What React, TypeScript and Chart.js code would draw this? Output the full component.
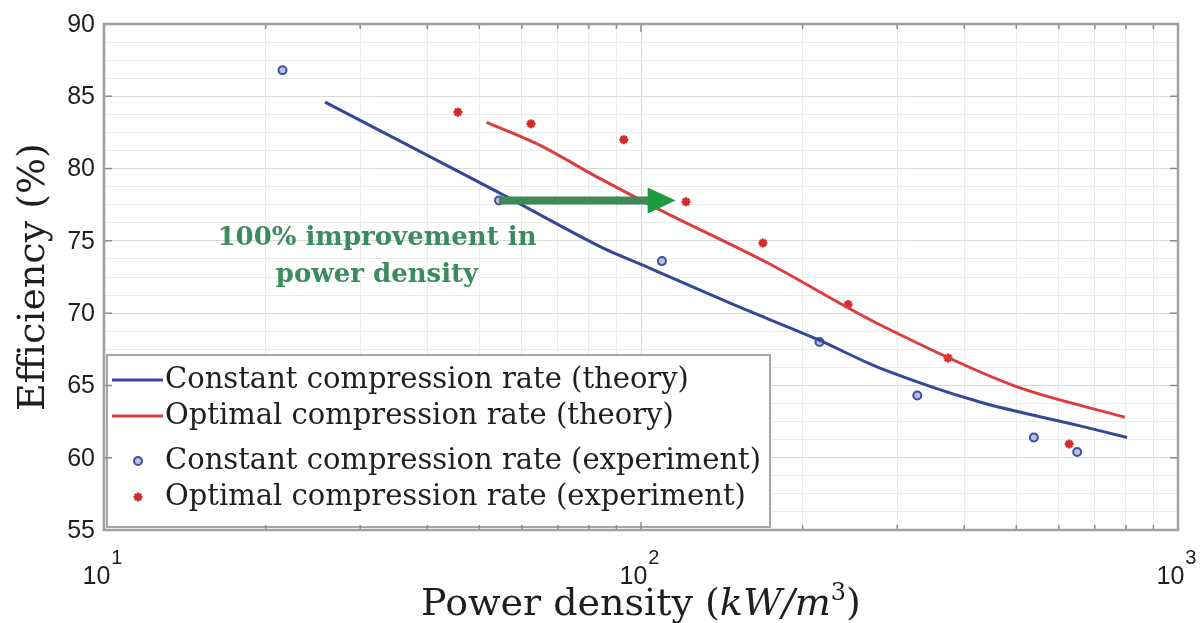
import React, { useEffect, useRef } from "react";
import { Chart, registerables } from "chart.js";
Chart.register(...registerables);

// ---------- data ----------
const xTickValues = [10, 20, 30, 40, 50, 60, 70, 80, 90, 100, 200, 300, 400, 500, 600, 700, 800, 900, 1000];
const xMajorTicks = [10, 100, 1000];
const xMajorExponents = ["1", "2", "3"];
const yTickValues = [55, 56.25, 57.5, 58.75, 60, 61.25, 62.5, 63.75, 65, 66.25, 67.5, 68.75, 70, 71.25, 72.5, 73.75, 75, 76.25, 77.5, 78.75, 80, 81.25, 82.5, 83.75, 85, 86.25, 87.5, 88.75, 90];
const yLabelValues = [55, 60, 65, 70, 75, 80, 85, 90];

const constTheoryX = [25.8, 35.6, 54.6, 83.9, 104, 148.4, 212.7, 278.6, 427.6, 656.9, 803.5];
const constTheoryY = [84.6, 81.9, 78.3, 74.6, 73.1, 70.6, 68.2, 66.2, 63.85, 62.2, 61.4];
const optTheoryX = [51.6, 64.9, 83.9, 111.7, 171.6, 275, 493, 796];
const optTheoryY = [83.2, 81.6, 79.3, 76.9, 73.5, 69.3, 65.0, 62.8];
const constExpX = [21.5, 54.4, 109.4, 215, 327, 539, 649];
const constExpY = [86.8, 77.8, 73.6, 68.0, 64.3, 61.4, 60.4];
const optExpX = [45.6, 62.4, 92.9, 121.3, 168.7, 243, 373, 627];
const optExpY = [83.9, 83.1, 82.0, 77.7, 74.85, 70.6, 66.9, 60.95];

const arrowStartX = 54.4;
const arrowEndX = 116;
const arrowY = 77.8;

const legendLabels = [
  "Constant compression rate (theory)",
  "Optimal compression rate (theory)",
  "Constant compression rate (experiment)",
  "Optimal compression rate (experiment)",
];
const annotationLines = ["100% improvement in", "power density"];
const yTitle = "Efficiency (%)";

const BLUE = "#34489a";
const RED = "#dc3d3d";
const BLUE_PT = "#3f4f9e";
const RED_PT = "#d22b2b";
const TEXT = "#1f1f1f";

function zip(xs: number[], ys: number[]) {
  return xs.map((x, i) => ({ x, y: ys[i] }));
}

function drawStar(ctx: CanvasRenderingContext2D, x: number, y: number, r: number) {
  ctx.beginPath();
  for (let i = 0; i < 4; i++) {
    const a = (i * Math.PI) / 4;
    ctx.moveTo(x - Math.cos(a) * r, y - Math.sin(a) * r);
    ctx.lineTo(x + Math.cos(a) * r, y + Math.sin(a) * r);
  }
  ctx.stroke();
}

const overlayPlugin = {
  id: "overlay",
  afterDatasetsDraw(chart: any) {
    const ctx: CanvasRenderingContext2D = chart.ctx;
    const xs = chart.scales.x;
    const ys = chart.scales.y;
    ctx.save();
    // arrow
    const x0 = xs.getPixelForValue(arrowStartX);
    const x1 = xs.getPixelForValue(arrowEndX);
    const y0 = ys.getPixelForValue(arrowY);
    ctx.strokeStyle = "#3d8a58";
    ctx.lineWidth = 8;
    ctx.beginPath();
    ctx.moveTo(x0, y0);
    ctx.lineTo(x1 - 24, y0);
    ctx.stroke();
    ctx.fillStyle = "#1d9a40";
    ctx.beginPath();
    ctx.moveTo(x1, y0);
    ctx.lineTo(x1 - 28, y0 - 13);
    ctx.lineTo(x1 - 28, y0 + 13);
    ctx.closePath();
    ctx.fill();

    // annotation
    ctx.fillStyle = "#3b8b5e";
    ctx.font = "bold 26px 'DejaVu Serif'";
    ctx.textAlign = "center";
    ctx.textBaseline = "middle";
    ctx.fillText(annotationLines[0], 377, 238);
    ctx.fillText(annotationLines[1], 377, 275);

    // legend
    const lx = 107, ly = 355, lw = 663, lh = 172;
    ctx.fillStyle = "#ffffff";
    ctx.fillRect(lx, ly, lw, lh);
    ctx.strokeStyle = "#a6a6a6";
    ctx.lineWidth = 2;
    ctx.strokeRect(lx, ly, lw, lh);
    const rows = [380, 416, 461, 497];
    ctx.font = "29px 'DejaVu Serif'";
    ctx.textAlign = "left";
    ctx.textBaseline = "middle";
    legendLabels.forEach((t, i) => {
      const ry = rows[i];
      if (i < 2) {
        ctx.strokeStyle = i === 0 ? BLUE : RED;
        ctx.lineWidth = 3;
        ctx.beginPath();
        ctx.moveTo(112, ry);
        ctx.lineTo(163, ry);
        ctx.stroke();
      } else if (i === 2) {
        ctx.strokeStyle = BLUE_PT;
        ctx.fillStyle = "rgba(63,79,158,0.35)";
        ctx.lineWidth = 2;
        ctx.beginPath();
        ctx.arc(138, ry, 4, 0, Math.PI * 2);
        ctx.fill();
        ctx.stroke();
      } else {
        ctx.strokeStyle = RED_PT;
        ctx.lineWidth = 2.5;
        drawStar(ctx, 138, ry, 4.5);
      }
      ctx.fillStyle = TEXT;
      ctx.fillText(t, 165, ry);
    });
    ctx.restore();
  },
  afterDraw(chart: any) {
    const ctx: CanvasRenderingContext2D = chart.ctx;
    const xs = chart.scales.x;
    const ys = chart.scales.y;
    const a = chart.chartArea;
    ctx.save();
    // inward ticks
    ctx.strokeStyle = "#8a8a8a";
    ctx.lineWidth = 1.5;
    xTickValues.forEach((v) => {
      const px = xs.getPixelForValue(v);
      const len = xMajorTicks.includes(v) ? 8 : 5;
      ctx.beginPath();
      ctx.moveTo(px, a.bottom);
      ctx.lineTo(px, a.bottom - len);
      ctx.moveTo(px, a.top);
      ctx.lineTo(px, a.top + len);
      ctx.stroke();
    });
    yLabelValues.forEach((v) => {
      const py = ys.getPixelForValue(v);
      ctx.beginPath();
      ctx.moveTo(a.left, py);
      ctx.lineTo(a.left + 8, py);
      ctx.moveTo(a.right, py);
      ctx.lineTo(a.right - 8, py);
      ctx.stroke();
    });
    // border
    ctx.strokeStyle = "#a0a0a0";
    ctx.lineWidth = 2.5;
    ctx.strokeRect(a.left, a.top, a.right - a.left, a.bottom - a.top);

    // y tick labels
    ctx.fillStyle = TEXT;
    ctx.font = "25px 'Liberation Sans', Arial";
    ctx.textAlign = "right";
    ctx.textBaseline = "middle";
    yLabelValues.forEach((v) => {
      ctx.fillText(String(v), 95, ys.getPixelForValue(v) + 1);
    });

    // x tick labels 10^n
    xMajorTicks.forEach((v, i) => {
      const px = xs.getPixelForValue(v);
      ctx.font = "25px 'Liberation Sans', Arial";
      const wBase = ctx.measureText("10").width;
      ctx.font = "20px 'Liberation Sans', Arial";
      const wSup = ctx.measureText(xMajorExponents[i]).width;
      const start = px - (wBase + wSup) / 2 - 2;
      ctx.textAlign = "left";
      ctx.textBaseline = "alphabetic";
      ctx.font = "25px 'Liberation Sans', Arial";
      ctx.fillText("10", start, 584);
      ctx.font = "20px 'Liberation Sans', Arial";
      ctx.fillText(xMajorExponents[i], start + wBase + 1, 564);
    });

    // x title
    const parts = [
      { t: "Power density (", f: "38px 'DejaVu Serif'", dy: 0 },
      { t: "kW/m", f: "italic 38px 'DejaVu Serif'", dy: 0 },
      { t: "3", f: "24px 'DejaVu Serif'", dy: -15 },
      { t: ")", f: "38px 'DejaVu Serif'", dy: 0 },
    ];
    let total = 0;
    const widths = parts.map((p) => {
      ctx.font = p.f;
      const w = ctx.measureText(p.t).width;
      total += w;
      return w;
    });
    let cx = 641 - total / 2;
    ctx.textAlign = "left";
    ctx.textBaseline = "alphabetic";
    parts.forEach((p, i) => {
      ctx.font = p.f;
      ctx.fillText(p.t, cx, 615 + p.dy);
      cx += widths[i];
    });

    // y title
    ctx.translate(44, (a.top + a.bottom) / 2);
    ctx.rotate(-Math.PI / 2);
    ctx.font = "38px 'DejaVu Serif'";
    ctx.textAlign = "center";
    ctx.textBaseline = "alphabetic";
    ctx.fillText(yTitle, 0, 0);
    ctx.restore();
  },
};

export default function App() {
  const ref = useRef<HTMLCanvasElement | null>(null);
  useEffect(() => {
    if (!ref.current) return;
    const chart = new Chart(ref.current, {
      type: "scatter",
      data: {
        datasets: [
          {
            label: legendLabels[0],
            data: zip(constTheoryX, constTheoryY),
            showLine: true,
            borderColor: BLUE,
            borderWidth: 3,
            pointRadius: 0,
            tension: 0.3,
          },
          {
            label: legendLabels[1],
            data: zip(optTheoryX, optTheoryY),
            showLine: true,
            borderColor: RED,
            borderWidth: 3,
            pointRadius: 0,
            tension: 0.3,
          },
          {
            label: legendLabels[2],
            data: zip(constExpX, constExpY),
            showLine: false,
            pointStyle: "circle",
            pointRadius: 4,
            borderWidth: 2,
            borderColor: BLUE_PT,
            backgroundColor: "rgba(63,79,158,0.35)",
          },
          {
            label: legendLabels[3],
            data: zip(optExpX, optExpY),
            showLine: false,
            pointStyle: "star",
            pointRadius: 4.5,
            borderWidth: 2.5,
            borderColor: RED_PT,
            backgroundColor: RED_PT,
          },
        ],
      } as any,
      options: {
        animation: false,
        responsive: false,
        layout: { padding: { left: 104, top: 24, right: 26, bottom: 93 } },
        plugins: { legend: { display: false }, tooltip: { enabled: false } },
        scales: {
          x: {
            type: "logarithmic",
            min: 10,
            max: 1000,
            afterBuildTicks: (s: any) => {
              s.ticks = xTickValues.map((v) => ({ value: v, major: xMajorTicks.includes(v) }));
            },
            ticks: { display: false },
            border: { display: false },
            grid: {
              drawTicks: false,
              color: (c: any) => (c.tick && xMajorTicks.includes(c.tick.value) ? "#d9d9d9" : "#ebebeb"),
              lineWidth: 1,
            },
          },
          y: {
            type: "linear",
            min: 55,
            max: 90,
            afterBuildTicks: (s: any) => {
              s.ticks = yTickValues.map((v) => ({ value: v }));
            },
            ticks: { display: false },
            border: { display: false },
            grid: {
              drawTicks: false,
              color: (c: any) => (c.tick && yLabelValues.includes(c.tick.value) ? "#d9d9d9" : "#ebebeb"),
              lineWidth: 1,
            },
          },
        },
      } as any,
      plugins: [overlayPlugin],
    });
    return () => chart.destroy();
  }, []);
  return (
    <div style={{ position: "absolute", left: 0, top: 0, width: 1204, height: 623, background: "#ffffff" }}>
      <canvas ref={ref} width={1204} height={623} style={{ display: "block" }} />
    </div>
  );
}
